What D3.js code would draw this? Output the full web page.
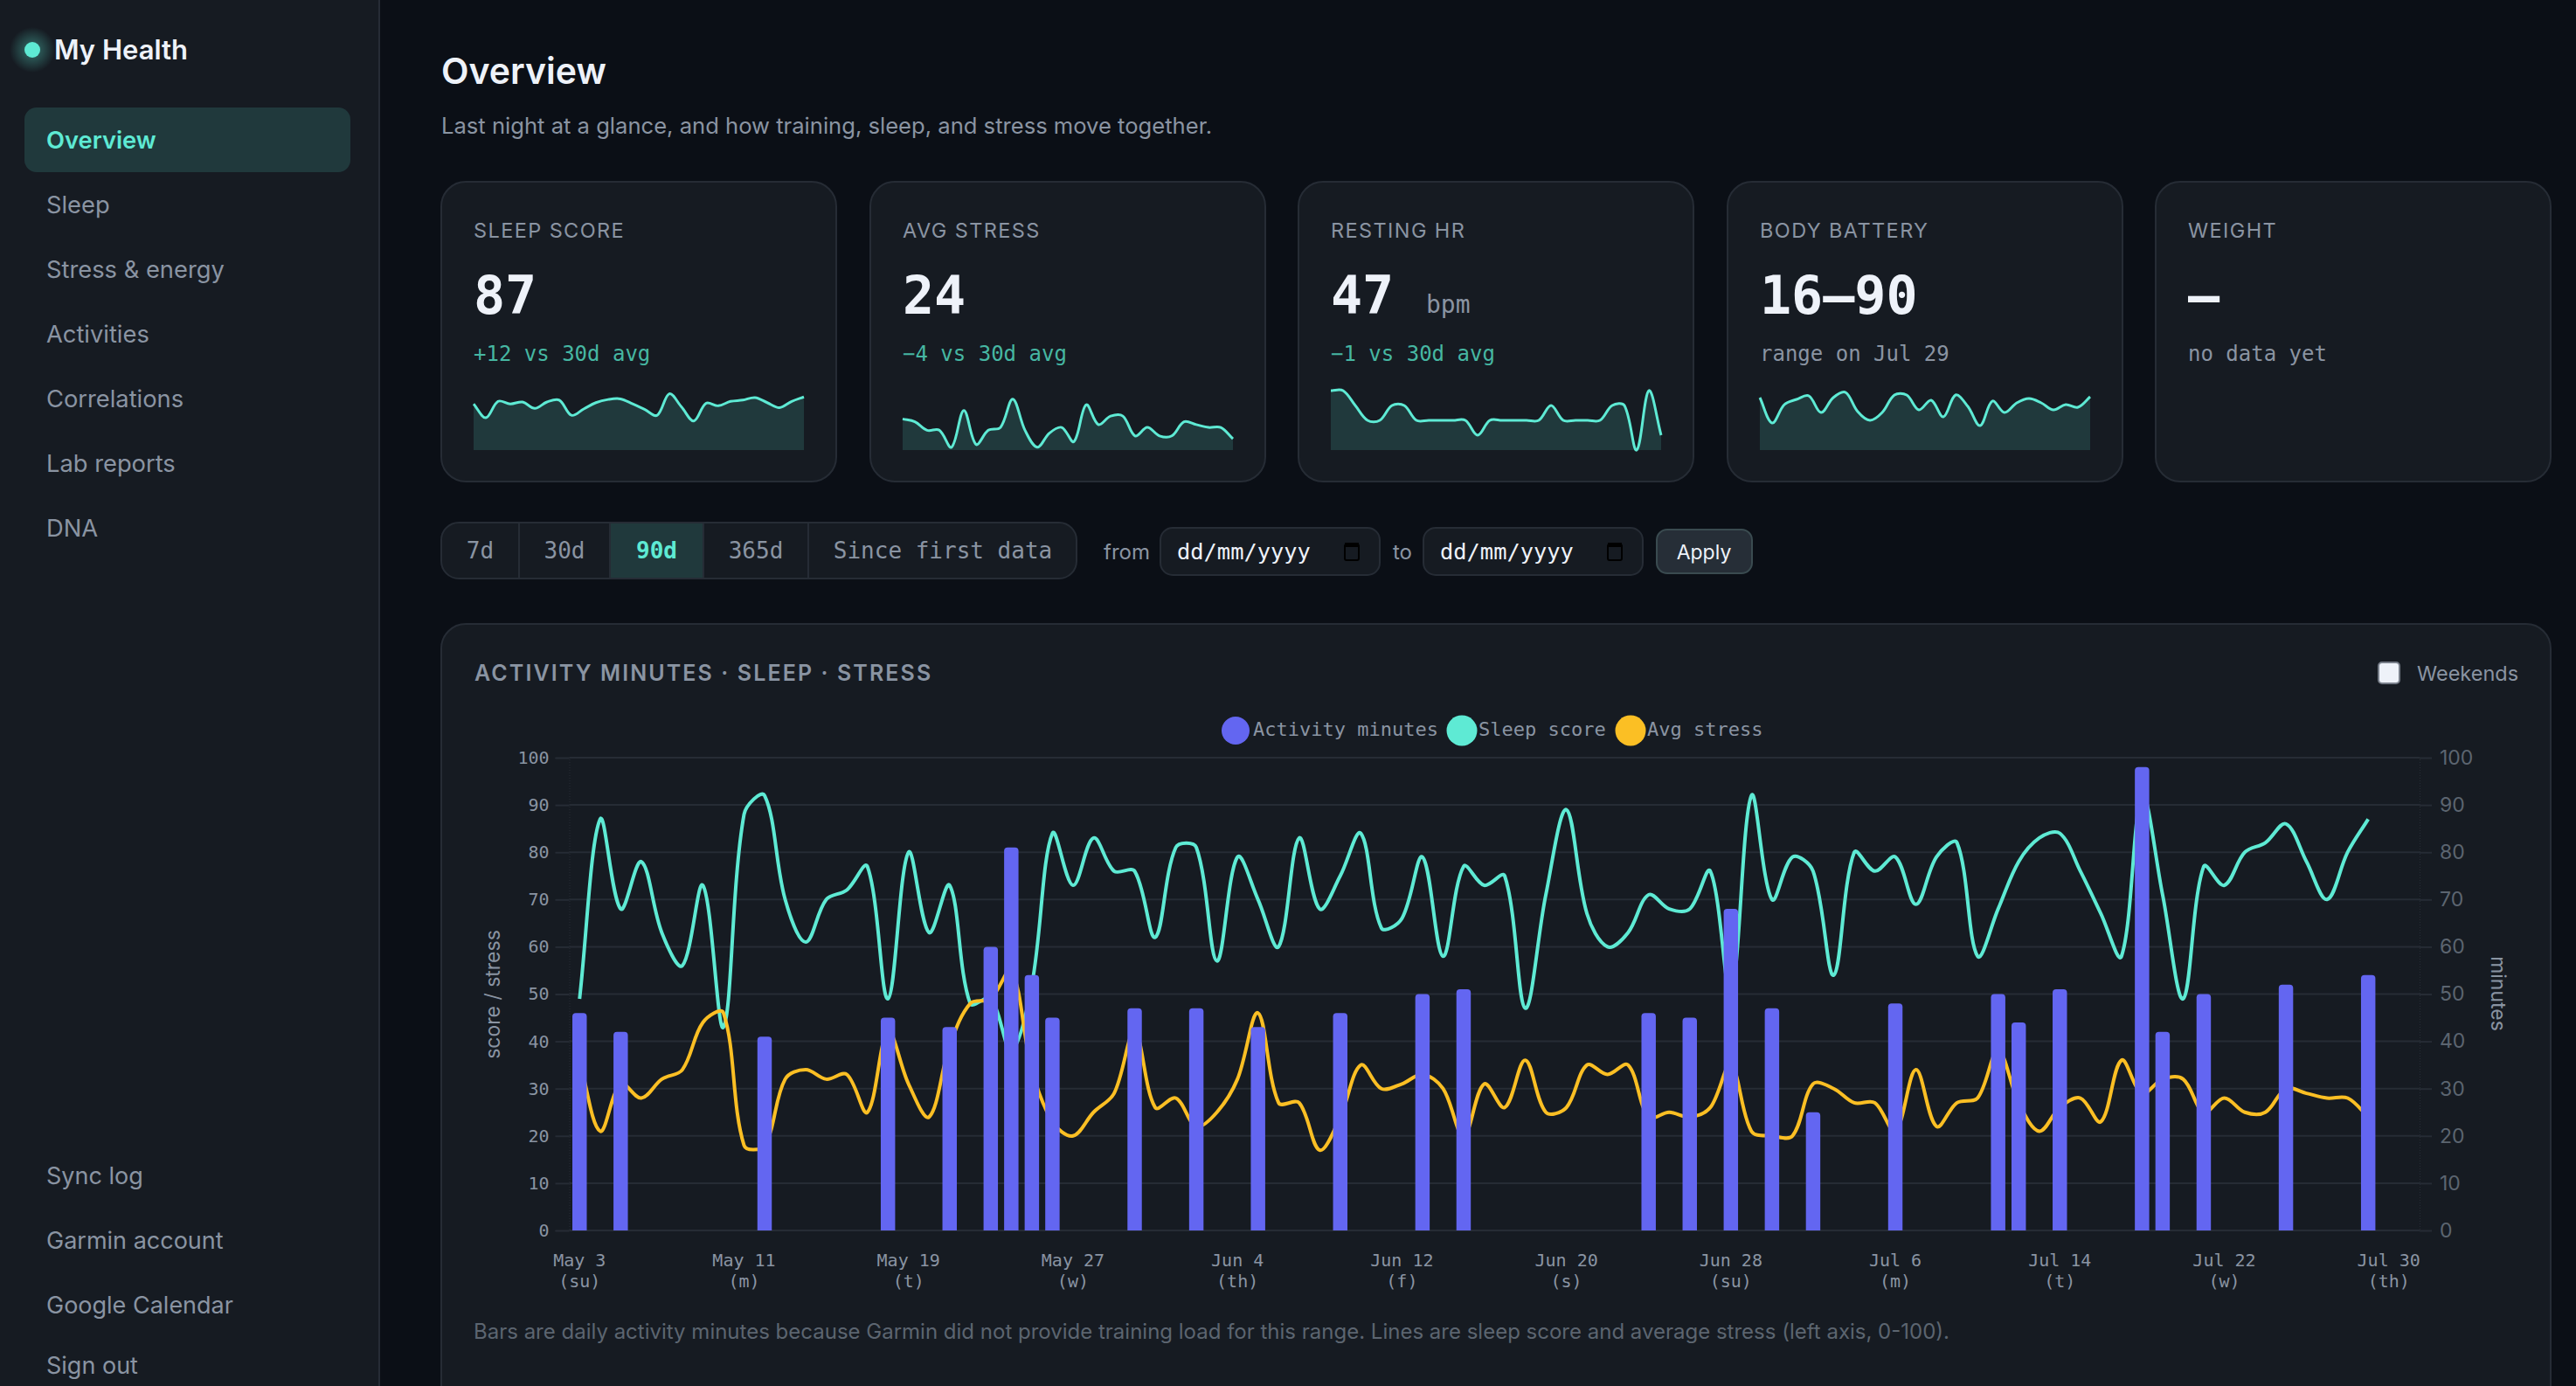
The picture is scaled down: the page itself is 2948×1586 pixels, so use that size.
<!DOCTYPE html>
<html>
<head>
<meta charset="utf-8">
<title>My Health</title>
<script src="https://cdn.jsdelivr.net/npm/d3@7"></script>
<style>
  html, body { margin: 0; padding: 0; background: #0b0f16; overflow: hidden; }
  svg { display: block; }
  text { font-family: Inter, sans-serif; }
  .mono, .mono text { font-family: "DejaVu Sans Mono", monospace; }
</style>
</head>
<body>
<svg id="page" width="2948" height="1586"></svg>
<script>
const navTop = ["Overview", "Sleep", "Stress & energy", "Activities", "Correlations", "Lab reports", "DNA"];
const navBottom = ["Sync log", "Garmin account", "Google Calendar", "Sign out"];

const rangeLabels = ["7d", "30d", "90d", "365d", "Since first data"];

const legendLabels = ["Activity minutes", "Sleep score", "Avg stress"];
const yTicks = [0, 10, 20, 30, 40, 50, 60, 70, 80, 90, 100];
const weekdayLabels = ["su", "m", "t", "w", "th", "f", "s", "su", "m", "t", "w", "th"];

const sleepScore = [
  49, 87, 68, 78, 63, 56, 73, 43, 88, 92,
  70, 61, 70, 72, 77, 49, 80, 63, 73, 48,
  49, 38, 52, 84, 73, 83, 76, 76, 62, 81,
  81, 57, 79, 70, 60, 83, 68, 75, 84, 64,
  66, 79, 58, 77, 73, 75, 47, 71, 89, 67,
  60, 63, 71, 68, 68, 76, 50, 92, 70, 79,
  76, 54, 80, 76, 79, 69, 79, 82, 58, 68,
  78, 83, 84, 76, 67, 58, 92, 71, 49, 77,
  73, 80, 82, 86, 78, 70, 80, 87
];
const avgStress = [
  36, 21, 31, 28, 32, 34, 44, 46, 18, 18,
  32, 34, 32, 33, 25, 42, 31, 24, 39, 48,
  49, 55, 34, 23, 20, 25, 29, 42, 26, 28,
  22, 25, 32, 46, 27, 27, 17, 24, 35, 30,
  31, 33, 30, 20, 31, 26, 36, 25, 26, 35,
  33, 35, 24, 25, 24, 26, 35, 21, 20, 20,
  31, 30, 27, 27, 21, 34, 22, 27, 28, 38,
  27, 21, 26, 28, 23, 36, 29, 32, 32, 25,
  28, 25, 25, 30, 29, 28, 28, 24
];
const activityMinutes = [
  46, 0, 42, 0, 0, 0, 0, 0, 0, 41,
  0, 0, 0, 0, 0, 45, 0, 0, 43, 0,
  60, 81, 54, 45, 0, 0, 0, 47, 0, 0,
  47, 0, 0, 43, 0, 0, 0, 46, 0, 0,
  0, 50, 0, 51, 0, 0, 0, 0, 0, 0,
  0, 0, 46, 0, 45, 0, 68, 0, 47, 0,
  25, 0, 0, 0, 48, 0, 0, 0, 0, 50,
  44, 0, 51, 0, 0, 0, 98, 42, 0, 50,
  0, 0, 0, 52, 0, 0, 0, 54
];

const restingHr = [50, 50, 49, 48, 48, 49, 49, 48, 48, 48, 48, 48, 47, 48, 48, 48, 48, 48, 49, 48, 48, 48, 48, 49, 49, 46, 50, 47];
const bodyBattery = [89, 60, 81, 87, 91, 72, 89, 95, 73, 63, 72, 92, 92, 75, 86, 67, 92, 79, 57, 85, 72, 83, 88, 83, 75, 81, 78, 90];

const kpiLabels = ["SLEEP SCORE", "AVG STRESS", "RESTING HR", "BODY BATTERY", "WEIGHT"];
const kpiValues = ["87", "24", "47", "16—90", "—"];
const kpiNotes = ["+12 vs 30d avg", "−4 vs 30d avg", "−1 vs 30d avg", "range on Jul 29", "no data yet"];
const kpiSeries = [sleepScore.slice(60), avgStress.slice(60), restingHr, bodyBattery, null];
const kpiDomains = [[3, 97], [20, 41], [46, 50], [29, 97], null];

const days = d3.utcDay.range(new Date(Date.UTC(2026, 4, 3)), new Date(Date.UTC(2026, 7, 1))).map(d3.utcFormat("%b %-d"));

const colors = {
  bg: "#0b0f16", panel: "#161b22", border: "#262c35", text: "#eef2f9", muted: "#8a94a2", dim: "#5c6570",
  accent: "#5eead4", delta: "#46b7a2", indigo: "#6366f1", amber: "#fbbf24", grid: "#262c35"
};

// same bezier handles as a tension spline: each handle scales with its neighbour distance
function tensionCurve(context) {
  let pts = [], lineState = NaN;
  return {
    areaStart() { lineState = 0; },
    areaEnd() { lineState = NaN; },
    lineStart() { pts = []; },
    point(px, py) { pts.push([+px, +py]); },
    lineEnd() {
      const n = pts.length, t = 0.35;
      const handles = pts.map((p, i) => {
        const a = pts[Math.max(i - 1, 0)], b = pts[Math.min(i + 1, n - 1)];
        const d1 = Math.hypot(p[0] - a[0], p[1] - a[1]), d2 = Math.hypot(b[0] - p[0], b[1] - p[1]);
        const s = d1 + d2 || 1;
        return {
          prev: [p[0] - t * d1 / s * (b[0] - a[0]), p[1] - t * d1 / s * (b[1] - a[1])],
          next: [p[0] + t * d2 / s * (b[0] - a[0]), p[1] + t * d2 / s * (b[1] - a[1])]
        };
      });
      pts.forEach((p, i) => {
        if (i === 0) {
          if (lineState) context.lineTo(p[0], p[1]); else context.moveTo(p[0], p[1]);
        } else {
          context.bezierCurveTo(handles[i - 1].next[0], handles[i - 1].next[1], handles[i].prev[0], handles[i].prev[1], p[0], p[1]);
        }
      });
      if (lineState || (lineState !== 0 && n === 1)) context.closePath();
      lineState = 1 - lineState;
    }
  };
}
const curve = tensionCurve;

const svg = d3.select("#page");

function label(parent, x, y, str, size, fill, opts) {
  opts = opts || {};
  return parent.append("text")
    .attr("x", x).attr("y", y)
    .attr("font-size", size)
    .attr("fill", fill)
    .attr("class", opts.mono ? "mono" : null)
    .attr("font-weight", opts.weight || 400)
    .attr("letter-spacing", opts.spacing || null)
    .attr("text-anchor", opts.anchor || "start")
    .text(str);
}

function panel(x, y, w, h, r, fill, stroke) {
  return svg.append("rect")
    .attr("x", x + 1).attr("y", y + 1)
    .attr("width", w - 2).attr("height", h - 2)
    .attr("rx", r)
    .attr("fill", fill)
    .attr("stroke", stroke)
    .attr("stroke-width", 2);
}

// sidebar
svg.append("rect").attr("width", 435).attr("height", 1586).attr("fill", colors.panel);
svg.append("rect").attr("x", 433).attr("width", 2).attr("height", 1586).attr("fill", colors.border);

const glow = svg.append("defs").append("radialGradient").attr("id", "dotGlow");
glow.append("stop").attr("offset", "30%").attr("stop-color", colors.accent).attr("stop-opacity", 0.3);
glow.append("stop").attr("offset", "100%").attr("stop-color", colors.accent).attr("stop-opacity", 0);
svg.append("circle").attr("cx", 37).attr("cy", 57).attr("r", 26).attr("fill", "url(#dotGlow)");
svg.append("circle").attr("cx", 37).attr("cy", 57).attr("r", 9).attr("fill", colors.accent);
label(svg, 62, 68, "My Health", 31, colors.text, { weight: 600 });

svg.append("rect").attr("x", 28).attr("y", 123).attr("width", 373).attr("height", 74).attr("rx", 14)
  .attr("fill", colors.accent).attr("fill-opacity", 0.15);
navTop.forEach((d, i) => {
  label(svg, 53, 170 + i * 74, d, 27.3, i === 0 ? colors.accent : colors.muted, { weight: i === 0 ? 600 : 400 });
});
[1355, 1429, 1503, 1572].forEach((y, i) => label(svg, 53, y, navBottom[i], 27, colors.muted));

// header
label(svg, 505, 96, "Overview", 41, colors.text, { weight: 600 });
label(svg, 505, 153, "Last night at a glance, and how training, sleep, and stress move together.", 25.6, colors.muted);

// kpi cards
const cardX = [504, 995, 1485, 1976, 2466];
const sparkW = 378, sparkTop = 447, sparkBottom = 515;

kpiLabels.forEach((d, i) => {
  const x0 = cardX[i];
  panel(x0, 207, 454, 345, 28, colors.panel, colors.border);
  label(svg, x0 + 38, 272, d, 23.5, colors.muted, { spacing: 1.4 });
  label(svg, x0 + 38, 359, kpiValues[i], 60, colors.text, { mono: true, weight: 700 });
  if (i === 2) label(svg, 1632, 358, "bpm", 28, colors.muted, { mono: true });
  label(svg, x0 + 38, 413, kpiNotes[i], 24, i < 3 ? colors.delta : colors.muted, { mono: true });

  if (!kpiSeries[i]) return;
  const sx = d3.scaleLinear().domain([0, kpiSeries[i].length - 1]).range([x0 + 38, x0 + 38 + sparkW]);
  const sy = d3.scaleLinear().domain(kpiDomains[i]).range([sparkBottom, sparkTop]);
  svg.append("path").datum(kpiSeries[i])
    .attr("fill", colors.accent).attr("fill-opacity", 0.15)
    .attr("d", d3.area().x((v, j) => sx(j)).y0(sparkBottom).y1(v => sy(v)).curve(curve));
  svg.append("path").datum(kpiSeries[i])
    .attr("fill", "none").attr("stroke", colors.accent).attr("stroke-width", 3)
    .attr("d", d3.line().x((v, j) => sx(j)).y(v => sy(v)).curve(curve));
});

// range filter
panel(504, 597, 729, 66, 20, colors.panel, colors.border);
const rangeEdges = [505, 594, 698, 805, 925, 1233];
svg.append("rect").attr("x", rangeEdges[2]).attr("y", 599).attr("width", rangeEdges[3] - rangeEdges[2]).attr("height", 62)
  .attr("fill", colors.accent).attr("fill-opacity", 0.15);
rangeLabels.forEach((d, i) => {
  if (i > 0) svg.append("rect").attr("x", rangeEdges[i] - 1).attr("y", 599).attr("width", 2).attr("height", 62).attr("fill", colors.border);
  label(svg, (rangeEdges[i] + rangeEdges[i + 1]) / 2, 639, d, 26, i === 2 ? colors.accent : colors.muted,
    { mono: true, anchor: "middle", weight: i === 2 ? 700 : 400 });
});
label(svg, 1263, 640, "from", 24, colors.muted);
label(svg, 1594, 640, "to", 24, colors.muted);
[1327, 1628].forEach(x0 => {
  panel(x0, 603, 253, 56, 14, colors.panel, colors.border);
  label(svg, x0 + 20, 640, "dd/mm/yyyy", 25.4, colors.text, { mono: true });
  svg.append("rect").attr("x", x0 + 212).attr("y", 623).attr("width", 16).attr("height", 18).attr("rx", 2)
    .attr("fill", "none").attr("stroke", "#000").attr("stroke-width", 2);
  svg.append("rect").attr("x", x0 + 212).attr("y", 621).attr("width", 16).attr("height", 5).attr("fill", "#000");
});
panel(1895, 605, 111, 52, 12, "#262e37", "#3a4b50");
label(svg, 1950, 640, "Apply", 23, colors.text, { anchor: "middle" });

// main chart card
panel(504, 713, 2416, 920, 28, colors.panel, colors.border);
label(svg, 543, 779, "ACTIVITY MINUTES · SLEEP · STRESS", 25, colors.muted, { weight: 600, spacing: 2.1 });
svg.append("rect").attr("x", 2722).attr("y", 758).attr("width", 24).attr("height", 24).attr("rx", 4)
  .attr("fill", "#eef2f9").attr("stroke", "#767d88").attr("stroke-width", 2);
label(svg, 2766, 779, "Weekends", 23.5, colors.muted);

// legend
const legendX = [1414, 1673, 1866], legendR = [16, 17.5, 17.5], legendTextX = [1434, 1692, 1885];
const legendColors = [colors.indigo, colors.accent, colors.amber];
legendLabels.forEach((d, i) => {
  svg.append("circle").attr("cx", legendX[i]).attr("cy", 836).attr("r", legendR[i]).attr("fill", legendColors[i]);
  label(svg, legendTextX[i], 842, d, 22, colors.muted, { mono: true });
});

const plot = { left: 651.5, right: 2769, top: 867, bottom: 1408 };
const x = d3.scaleBand().domain(days).range([plot.left, plot.right]);
const y = d3.scaleLinear().domain([0, 100]).range([plot.bottom, plot.top]);
const xc = i => x(days[i]) + x.bandwidth() / 2;

// grid
svg.append("g").selectAll("line").data(yTicks).join("line")
  .attr("x1", plot.left).attr("x2", plot.right)
  .attr("y1", d => y(d)).attr("y2", d => y(d))
  .attr("stroke", colors.grid).attr("stroke-width", 2);

// axes
const yLeft = svg.append("g").attr("class", "mono").attr("transform", `translate(${plot.left},0)`)
  .call(d3.axisLeft(y).tickValues(yTicks).tickSize(16).tickPadding(7));
yLeft.selectAll("text").attr("font-size", 20).attr("fill", colors.muted).attr("font-family", null);
const yRight = svg.append("g").attr("transform", `translate(${plot.right},0)`)
  .call(d3.axisRight(y).tickValues(yTicks).tickSize(14).tickPadding(9));
yRight.selectAll("text").attr("font-size", 23).attr("fill", colors.dim).attr("font-family", null);
[yLeft, yRight].forEach(g => {
  g.selectAll("line").attr("stroke", colors.grid).attr("stroke-width", 2);
  g.select(".domain").attr("stroke", colors.grid).attr("stroke-width", 1).attr("stroke-dasharray", "1 2");
});

const tickDays = days.filter((d, i) => i % 8 === 0 && i < 89);
const xAxis = svg.append("g").attr("class", "mono").attr("transform", `translate(0,${plot.bottom})`)
  .call(d3.axisBottom(x).tickValues(tickDays).tickSize(0).tickPadding(0));
xAxis.select(".domain").remove();
xAxis.selectAll("text").each(function (d, i) {
  const t = d3.select(this).attr("font-size", 20).attr("fill", colors.muted).attr("font-family", null).attr("y", 0).attr("dy", null).text(null);
  t.append("tspan").attr("x", 0).attr("y", 41).text(d.replace(" ", "\u00a0"));
  t.append("tspan").attr("x", 0).attr("y", 65).text(`(${weekdayLabels[i]})`);
});

label(svg, 0, 0, "score / stress", 23, colors.muted, { anchor: "middle" }).attr("transform", "translate(572,1138) rotate(-90)");
label(svg, 0, 0, "minutes", 23, colors.muted, { anchor: "middle" }).attr("transform", "translate(2851,1137) rotate(90)");

// lines go under the bars
const seriesLine = d3.line().x((v, i) => xc(i)).y(v => y(v)).curve(curve);
[[sleepScore, colors.accent], [avgStress, colors.amber]].forEach(([vals, c]) => {
  svg.append("path").datum(vals).attr("fill", "none").attr("stroke", c).attr("stroke-width", 4).attr("d", seriesLine);
});

const barW = x.bandwidth() * 0.7;
svg.append("g").selectAll("path").data(activityMinutes).join("path")
  .attr("fill", colors.indigo)
  .attr("d", (v, i) => {
    if (!v) return null;
    const p = d3.path(), x0 = xc(i) - barW / 2, r = 4;
    p.moveTo(x0, y(0));
    p.lineTo(x0, y(v) + r);
    p.quadraticCurveTo(x0, y(v), x0 + r, y(v));
    p.lineTo(x0 + barW - r, y(v));
    p.quadraticCurveTo(x0 + barW, y(v), x0 + barW, y(v) + r);
    p.lineTo(x0 + barW, y(0));
    p.closePath();
    return p.toString();
  });

label(svg, 542, 1532, "Bars are daily activity minutes because Garmin did not provide training load for this range. Lines are sleep score and average stress (left axis, 0-100).", 24, colors.dim);
</script>
</body>
</html>
